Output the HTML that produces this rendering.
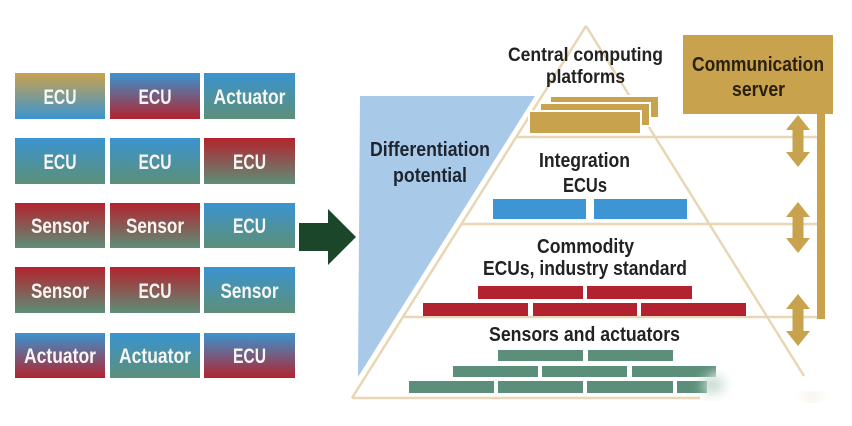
<!DOCTYPE html>
<html>
<head>
<meta charset="utf-8">
<style>
html,body{margin:0;padding:0;background:#fff;}
svg{display:block;}
text{font-family:"Liberation Sans Narrow","Liberation Sans",sans-serif;font-weight:bold;}
</style>
</head>
<body>
<svg width="852" height="426" viewBox="0 0 852 426" xmlns="http://www.w3.org/2000/svg">
<defs>
  <linearGradient id="gb" x1="0" y1="0" x2="0" y2="1"><stop offset="0" stop-color="#c9a24f"/><stop offset="1" stop-color="#3a94d0"/></linearGradient>
  <linearGradient id="br" x1="0" y1="0" x2="0" y2="1"><stop offset="0" stop-color="#3a94d0"/><stop offset="1" stop-color="#b3232e"/></linearGradient>
  <linearGradient id="bg" x1="0" y1="0" x2="0" y2="1"><stop offset="0" stop-color="#3a94d0"/><stop offset="1" stop-color="#5d8f78"/></linearGradient>
  <linearGradient id="rg" x1="0" y1="0" x2="0" y2="1"><stop offset="0" stop-color="#b3232e"/><stop offset="1" stop-color="#5d8f78"/></linearGradient>
  <filter id="blur" x="-50%" y="-50%" width="200%" height="200%"><feGaussianBlur stdDeviation="6"/></filter>
</defs>

<rect width="852" height="426" fill="#fff"/>

<!-- Left grid -->
<g>
  <rect x="15" y="73" width="90" height="46" fill="url(#gb)"/>
  <rect x="110" y="73" width="90" height="46" fill="url(#br)"/>
  <rect x="204" y="73" width="91" height="46" fill="url(#bg)"/>

  <rect x="15" y="138" width="90" height="46" fill="url(#bg)"/>
  <rect x="110" y="138" width="90" height="46" fill="url(#bg)"/>
  <rect x="204" y="138" width="91" height="46" fill="url(#rg)"/>

  <rect x="15" y="203" width="90" height="45" fill="url(#rg)"/>
  <rect x="110" y="203" width="90" height="45" fill="url(#rg)"/>
  <rect x="204" y="203" width="91" height="45" fill="url(#bg)"/>

  <rect x="15" y="267" width="90" height="46" fill="url(#rg)"/>
  <rect x="110" y="267" width="90" height="46" fill="url(#rg)"/>
  <rect x="204" y="267" width="91" height="46" fill="url(#bg)"/>

  <rect x="15" y="333" width="90" height="45" fill="url(#br)"/>
  <rect x="110" y="333" width="90" height="45" fill="url(#bg)"/>
  <rect x="204" y="333" width="91" height="45" fill="url(#br)"/>
</g>
<g fill="#f6f6f4" font-size="21" text-anchor="middle">
  <text x="60" y="104" textLength="33" lengthAdjust="spacingAndGlyphs">ECU</text>
  <text x="155" y="104" textLength="33" lengthAdjust="spacingAndGlyphs">ECU</text>
  <text x="249.5" y="104" textLength="72" lengthAdjust="spacingAndGlyphs">Actuator</text>

  <text x="60" y="169" textLength="33" lengthAdjust="spacingAndGlyphs">ECU</text>
  <text x="155" y="169" textLength="33" lengthAdjust="spacingAndGlyphs">ECU</text>
  <text x="249.5" y="169" textLength="33" lengthAdjust="spacingAndGlyphs">ECU</text>

  <text x="60" y="233" textLength="58" lengthAdjust="spacingAndGlyphs">Sensor</text>
  <text x="155" y="233" textLength="58" lengthAdjust="spacingAndGlyphs">Sensor</text>
  <text x="249.5" y="233" textLength="33" lengthAdjust="spacingAndGlyphs">ECU</text>

  <text x="60" y="298" textLength="58" lengthAdjust="spacingAndGlyphs">Sensor</text>
  <text x="155" y="298" textLength="33" lengthAdjust="spacingAndGlyphs">ECU</text>
  <text x="249.5" y="298" textLength="58" lengthAdjust="spacingAndGlyphs">Sensor</text>

  <text x="60" y="363" textLength="72" lengthAdjust="spacingAndGlyphs">Actuator</text>
  <text x="155" y="363" textLength="72" lengthAdjust="spacingAndGlyphs">Actuator</text>
  <text x="249.5" y="363" textLength="33" lengthAdjust="spacingAndGlyphs">ECU</text>
</g>

<!-- Dark green arrow -->
<polygon points="299,223 328,223 328,209 356,237 328,265 328,251 299,251" fill="#1b4629"/>

<!-- Blue triangle -->
<polygon points="360,96 535,96 358,377" fill="#a8c9e8"/>

<!-- Pyramid lines -->
<g stroke="#e8d6b4" stroke-width="2.5" fill="none">
  <line x1="586" y1="26" x2="352" y2="398"/>
  <line x1="586" y1="26" x2="804" y2="376"/>
  <line x1="516" y1="137" x2="817" y2="137"/>
  <line x1="462" y1="224" x2="817" y2="224"/>
  <line x1="404" y1="317" x2="817" y2="317"/>
  <line x1="352" y1="398" x2="700" y2="398"/>
</g>

<!-- Gold plates -->
<g fill="#c9a24d" stroke="#fff" stroke-width="2">
  <rect x="550" y="96" width="109" height="22"/>
  <rect x="540" y="103" width="110" height="23"/>
  <rect x="529" y="111" width="112" height="23"/>
</g>

<!-- Communication server -->
<rect x="683" y="35" width="150" height="79" fill="#c9a24d"/>
<rect x="817" y="112" width="8" height="207" fill="#c9a24d"/>

<!-- Double arrows -->
<g fill="#c9a24d">
  <polygon points="798,115 810,130 803.5,130 803.5,152 810,152 798,167 786,152 792.5,152 792.5,130 786,130"/>
  <polygon points="798,202 810,217 803.5,217 803.5,238 810,238 798,253 786,238 792.5,238 792.5,217 786,217"/>
  <polygon points="798,294 810,309 803.5,309 803.5,331 810,331 798,346 786,331 792.5,331 792.5,309 786,309"/>
</g>

<!-- Blue bars -->
<g fill="#3d95d3">
  <rect x="493" y="199" width="93" height="20"/>
  <rect x="594" y="199" width="93" height="20"/>
</g>

<!-- Red bars -->
<g fill="#b3232f">
  <rect x="478" y="286" width="105" height="13"/>
  <rect x="587" y="286" width="105" height="13"/>
  <rect x="423" y="303" width="105" height="13"/>
  <rect x="533" y="303" width="104" height="13"/>
  <rect x="641" y="303" width="105" height="13"/>
</g>

<!-- Green bars -->
<g fill="#5b8f79">
  <rect x="498" y="350" width="85" height="11"/>
  <rect x="588" y="350" width="85" height="11"/>
  <rect x="453" y="366" width="85" height="11"/>
  <rect x="542" y="366" width="85" height="11"/>
  <rect x="632" y="366" width="84" height="11"/>
  <rect x="409" y="381" width="85" height="12"/>
  <rect x="498" y="381" width="85" height="12"/>
  <rect x="587" y="381" width="86" height="12"/>
  <rect x="677" y="381" width="30" height="12"/>
</g>

<!-- blur smudge -->
<ellipse cx="735" cy="386" rx="30" ry="16" fill="#fff" filter="url(#blur)"/>
<ellipse cx="712" cy="385" rx="12" ry="8" fill="#8fb3a3" opacity="0.55" filter="url(#blur)"/>
<ellipse cx="812" cy="397" rx="10" ry="3" fill="#eadcc0" opacity="0.8" filter="url(#blur)"/>

<!-- Labels -->
<g fill="#222" font-size="19">
  <text x="508" y="61" textLength="155" lengthAdjust="spacingAndGlyphs">Central computing</text>
  <text x="546" y="83" textLength="79" lengthAdjust="spacingAndGlyphs">platforms</text>
</g>
<g fill="#2a2010" font-size="20">
  <text x="692" y="71" textLength="132" lengthAdjust="spacingAndGlyphs">Communication</text>
  <text x="732" y="96" textLength="53" lengthAdjust="spacingAndGlyphs">server</text>
</g>
<g fill="#1f2530" font-size="20">
  <text x="370" y="156" textLength="120" lengthAdjust="spacingAndGlyphs">Differentiation</text>
  <text x="393" y="182" textLength="74" lengthAdjust="spacingAndGlyphs">potential</text>
</g>
<g fill="#222" font-size="20">
  <text x="539" y="167" textLength="91" lengthAdjust="spacingAndGlyphs">Integration</text>
  <text x="563" y="192" textLength="44" lengthAdjust="spacingAndGlyphs">ECUs</text>
  <text x="537" y="253" textLength="97" lengthAdjust="spacingAndGlyphs">Commodity</text>
  <text x="483" y="275" textLength="204" lengthAdjust="spacingAndGlyphs">ECUs, industry standard</text>
  <text x="489" y="341" textLength="191" lengthAdjust="spacingAndGlyphs">Sensors and actuators</text>
</g>
</svg>
</body>
</html>
